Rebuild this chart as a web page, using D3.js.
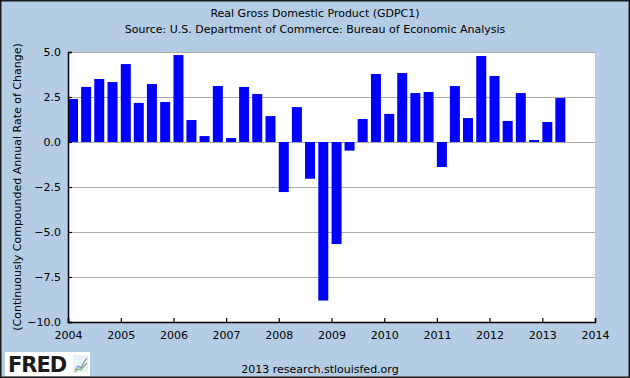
<!DOCTYPE html>
<html><head><meta charset="utf-8">
<script src="https://cdn.jsdelivr.net/npm/d3@7"></script>
<style>body{margin:0;padding:0;} svg{display:block;}</style>
</head><body>
<svg id="c" width="630" height="378"></svg>
<script>
const quarters = [
 "2004-01-01","2004-04-01","2004-07-01","2004-10-01",
 "2005-01-01","2005-04-01","2005-07-01","2005-10-01",
 "2006-01-01","2006-04-01","2006-07-01","2006-10-01",
 "2007-01-01","2007-04-01","2007-07-01","2007-10-01",
 "2008-01-01","2008-04-01","2008-07-01","2008-10-01",
 "2009-01-01","2009-04-01","2009-07-01","2009-10-01",
 "2010-01-01","2010-04-01","2010-07-01","2010-10-01",
 "2011-01-01","2011-04-01","2011-07-01","2011-10-01",
 "2012-01-01","2012-04-01","2012-07-01","2012-10-01",
 "2013-01-01","2013-04-01"];
const values = [
 2.39,3.06,3.50,3.33,
 4.33,2.17,3.22,2.22,
 4.83,1.22,0.33,3.11,
 0.22,3.06,2.67,1.44,
 -2.78,1.94,-2.04,-8.81,
 -5.67,-0.48,1.28,3.78,
 1.56,3.83,2.72,2.78,
 -1.39,3.11,1.33,4.78,
 3.67,1.17,2.72,0.11,
 1.11,2.44];
const yTicks = [5.0,2.5,0.0,-2.5,-5.0,-7.5,-10.0];
const xTickYears = [2004,2005,2006,2007,2008,2009,2010,2011,2012,2013,2014];
const title = "Real Gross Domestic Product (GDPC1)";
const subtitle = "Source: U.S. Department of Commerce: Bureau of Economic Analysis";
const yLabel = "(Continuously Compounded Annual Rate of Change)";
const footer = "2013 research.stlouisfed.org";

const W=630,H=378;
const m={left:68,right:35,top:52,bottom:56};
const svg=d3.select("#c");
const font="DejaVu Sans, sans-serif";
svg.append("rect").attr("width",W).attr("height",H).attr("fill","#b4cde4");
svg.append("rect").attr("x",0.75).attr("y",0.75).attr("width",W-1.5).attr("height",H-1.5)
  .attr("fill","none").attr("stroke","#1a1a1a").attr("stroke-width",1.5);

const parse=d3.timeParse("%Y-%m-%d");
const x=d3.scaleTime().domain([new Date(2004,0,1),new Date(2014,0,1)]).range([m.left,W-m.right]);
const y=d3.scaleLinear().domain([-10,5]).range([H-m.bottom,m.top]);

svg.append("rect").attr("x",m.left).attr("y",m.top).attr("width",W-m.right-m.left)
  .attr("height",H-m.bottom-m.top).attr("fill","#ffffff");

// grid
svg.append("g").selectAll("line").data(yTicks.filter(d=>d>-10)).join("line")
  .attr("x1",m.left).attr("x2",W-m.right)
  .attr("y1",d=>Math.round(y(d))+0.5).attr("y2",d=>Math.round(y(d))+0.5)
  .attr("stroke","#aaaaaa").attr("stroke-width",1);

// bars
const data=quarters.map((q,i)=>({d:parse(q),v:values[i]}));
svg.append("g").selectAll("rect").data(data).join("rect")
  .attr("x",d=>x(d.d))
  .attr("width",10)
  .attr("y",d=>y(Math.max(0,d.v)))
  .attr("height",d=>Math.abs(y(d.v)-y(0)))
  .attr("fill","#0000ff");

// axes
const yAxis=d3.axisLeft(y).tickValues(yTicks).tickFormat(d3.format(".1f")).tickSize(-4).tickPadding(7);
const gy=svg.append("g").attr("transform",`translate(${m.left},0)`).call(yAxis);
const xAxis=d3.axisBottom(x).tickValues(xTickYears.map(yr=>new Date(yr,0,1))).tickFormat(d3.timeFormat("%Y")).tickSize(-4).tickPadding(9);
const gx=svg.append("g").attr("transform",`translate(0,${H-m.bottom})`).call(xAxis);
[gy,gx].forEach(g=>{
  g.select(".domain").attr("stroke","#000").attr("stroke-width",1.5);
  g.selectAll(".tick line").attr("stroke","#000").attr("stroke-width",1.2);
  g.selectAll("text").attr("font-family",font).attr("font-size",11).attr("fill","#000");
});

// titles
svg.append("text").attr("x",W/2).attr("y",17).attr("text-anchor","middle")
  .attr("font-family",font).attr("font-size",11).attr("fill","#000").text(title);
svg.append("text").attr("x",W/2).attr("y",33).attr("text-anchor","middle")
  .attr("font-family",font).attr("font-size",11).attr("fill","#000").text(subtitle);
svg.append("text").attr("transform",`translate(21,${(m.top+H-m.bottom)/2}) rotate(-90)`)
  .attr("text-anchor","middle").attr("font-family",font).attr("font-size",11).attr("fill","#000").text(yLabel);
svg.append("text").attr("x",320).attr("y",373).attr("text-anchor","middle")
  .attr("font-family",font).attr("font-size",11).attr("fill","#000").text(footer);

// FRED logo
const lg=svg.append("g").attr("transform","translate(5,352)");
lg.append("rect").attr("width",85).attr("height",24).attr("fill","#ffffff");
lg.append("text").attr("x",3).attr("y",20).attr("font-family","DejaVu Sans, sans-serif")
  .attr("font-weight","bold").attr("font-size",21).attr("letter-spacing",-1).attr("fill","#1a1a1a").text("FRED");
lg.append("rect").attr("x",68).attr("y",3).attr("width",15).attr("height",18).attr("fill","#eef2f6");
lg.append("path").attr("d","M70 18 L73 14 L76 16 L79 10 L82 6").attr("fill","none").attr("stroke","#6b8fc4").attr("stroke-width",1.2);
lg.append("path").attr("d","M70 20 L73 17 L76 18 L79 14 L82 11").attr("fill","none").attr("stroke","#7fb36b").attr("stroke-width",1.2);
</script>
</body></html>
